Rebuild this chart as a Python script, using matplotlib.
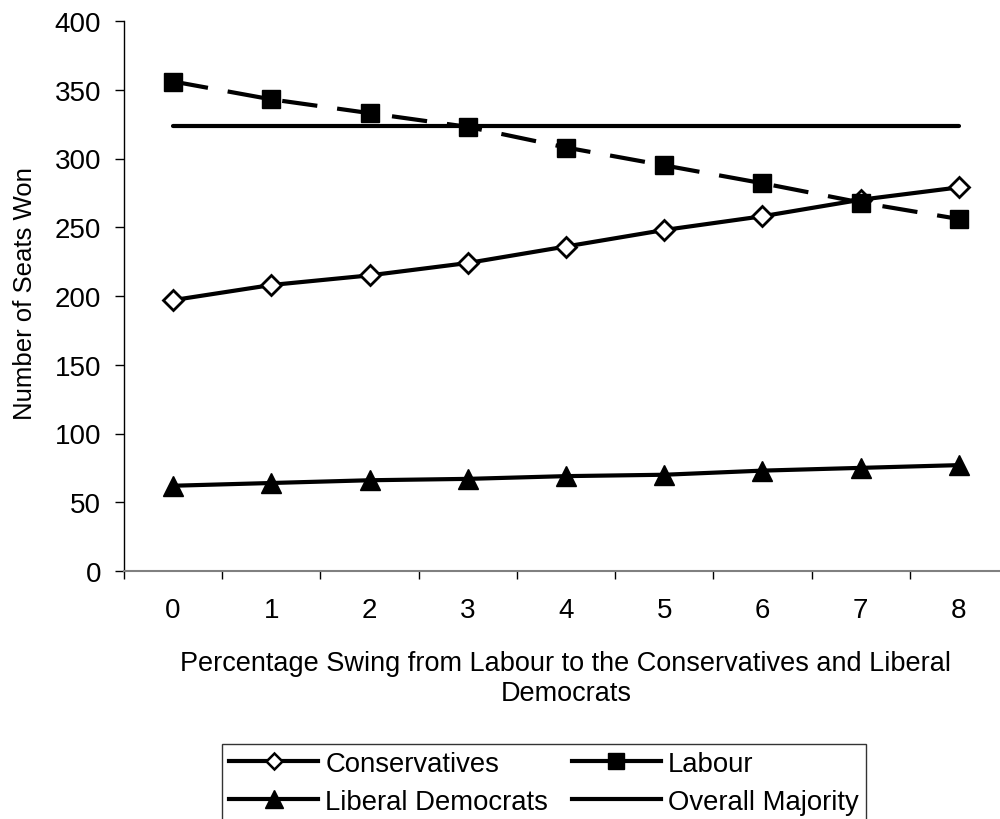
import matplotlib
matplotlib.use("Agg")
import matplotlib.pyplot as plt
from matplotlib.lines import Line2D
from matplotlib.ticker import FixedLocator, MultipleLocator

plt.rcParams['font.family'] = ['Liberation Sans', 'DejaVu Sans']

swing = [0, 1, 2, 3, 4, 5, 6, 7, 8]
conservatives = [197, 208, 215, 224, 236, 248, 258, 270, 279]
labour = [356, 343, 333, 323, 308, 295, 282, 268, 256]
lib_dems = [62, 64, 66, 67, 69, 70, 73, 75, 77]
majority = [324] * len(swing)

W, H = 1000, 820
fig = plt.figure(figsize=(W / 100, H / 100), dpi=100)
ax_left, ax_right, ax_top, ax_bottom = 124, 1008, 22, 572
ax = fig.add_axes([ax_left / W, 1 - ax_bottom / H,
                   (ax_right - ax_left) / W, (ax_bottom - ax_top) / H])

lw = 3.0
ax.plot(swing, conservatives, color='black', lw=lw, marker='D', markersize=10,
        markerfacecolor='white', markeredgecolor='black', markeredgewidth=2.0,
        label='Conservatives', zorder=4)
ax.plot(swing, labour, color='black', lw=lw, linestyle=(0, (8.5, 4.8)), marker='s',
        markersize=13, markerfacecolor='black', markeredgecolor='black',
        label='Labour', zorder=4)
ax.plot(swing, lib_dems, color='black', lw=lw, marker='^', markersize=14,
        markerfacecolor='black', markeredgecolor='black',
        label='Liberal Democrats', zorder=4)
ax.plot(swing, majority, color='black', lw=lw, solid_capstyle='round',
        label='Overall Majority', zorder=3)

ax.set_xlim(-0.5, 8.5)
ax.set_ylim(0, 400)
ax.yaxis.set_major_locator(MultipleLocator(50))
ax.xaxis.set_major_locator(FixedLocator(swing))
ax.xaxis.set_minor_locator(FixedLocator([s - 0.5 for s in swing] + [8.5]))
ax.tick_params(axis='x', which='major', length=0, pad=19, labelsize=20)
ax.tick_params(axis='x', which='minor', length=6, width=1, direction='out', color='black')
ax.tick_params(axis='y', which='major', length=6.5, width=1, direction='out',
               labelsize=20, pad=10, color='black')

for side in ('top', 'right'):
    ax.spines[side].set_visible(False)
ax.spines['left'].set_color('black')
ax.spines['bottom'].set_color('#808080')
ax.spines['left'].set_linewidth(1.0)
ax.spines['bottom'].set_linewidth(1.5)

# axis titles placed in figure pixels
fig.text(25 / W, 1 - 294 / H, 'Number of Seats Won', rotation=90,
         ha='center', va='center', fontsize=18.5)
fig.text(566 / W, 1 - 664 / H,
         'Percentage Swing from Labour to the Conservatives and Liberal',
         ha='center', va='center', fontsize=19.5)
fig.text(566 / W, 1 - 694 / H, 'Democrats', ha='center', va='center', fontsize=19.5)

# legend laid out row by row: Conservatives, Labour / Liberal Democrats, Overall Majority
h_con = Line2D([], [], color='black', lw=lw, marker='D', markersize=8,
               markerfacecolor='white', markeredgecolor='black', markeredgewidth=1.8)
h_lab = Line2D([], [], color='black', lw=lw, marker='s', markersize=11,
               markerfacecolor='black', markeredgecolor='black')
h_lib = Line2D([], [], color='black', lw=lw, marker='^', markersize=13,
               markerfacecolor='black', markeredgecolor='black')
h_maj = Line2D([], [], color='black', lw=lw)
leg = fig.legend([h_con, h_lib, h_lab, h_maj],
                 ['Conservatives', 'Liberal Democrats', 'Labour', 'Overall Majority'],
                 loc='upper left', bbox_to_anchor=(222 / W, 1 - 745 / H), ncol=2,
                 fontsize=19.8, frameon=True, fancybox=False, handlelength=3.25,
                 handletextpad=0.26, columnspacing=0.85, borderpad=0.25,
                 labelspacing=0.44, borderaxespad=0)
leg.get_frame().set_edgecolor('black')
leg.get_frame().set_linewidth(1.0)

fig.savefig('out.png', dpi=100)
